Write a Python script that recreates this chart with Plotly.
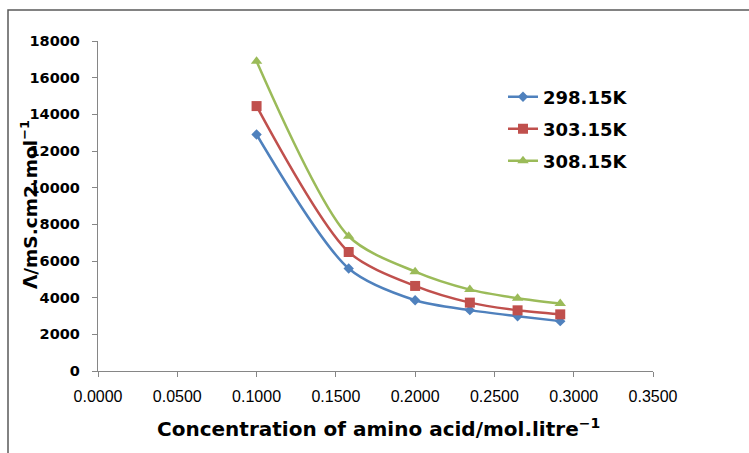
import plotly.graph_objects as go

conc = [0.1000, 0.1581, 0.2000, 0.2345, 0.2646, 0.2915]
lam_298 = [12900, 5590, 3860, 3320, 2990, 2720]
lam_303 = [14450, 6490, 4640, 3730, 3310, 3090]
lam_308 = [16900, 7350, 5420, 4440, 3970, 3680]
names = ["298.15K", "303.15K", "308.15K"]
colors = ["#4F81BD", "#C0504D", "#9BBB59"]
symbols = ["diamond", "square", "triangle-up"]
sizes = [8, 10, 10]
x_ticks = [0, 0.05, 0.1, 0.15, 0.2, 0.25, 0.3, 0.35]
y_ticks = list(range(0, 18001, 2000))

FONT = "Liberation Sans, Arial, sans-serif"
BFONT = "DejaVu Sans, sans-serif"
fig = go.Figure()
legends = ["legend", "legend2", "legend3"]
for i, ys in enumerate([lam_298, lam_303, lam_308]):
    fig.add_trace(go.Scatter(
        x=conc, y=ys, name=names[i], mode="lines+markers",
        line=dict(color=colors[i], width=2.5, shape="spline", smoothing=0.8),
        marker=dict(symbol=symbols[i], size=sizes[i], color=colors[i]),
        legend=legends[i],
    ))

W, H = 749, 453
l, r, t, b = 98, 96, 41, 82
pw = W - l - r
ph = H - t - b

def px_x(p):
    return (p - l) / pw

def px_y(p):
    return (H - b - p) / ph

leg_common = dict(font=dict(family=BFONT, size=18, color="black", weight="bold"),
                  bgcolor="rgba(0,0,0,0)", xanchor="left", yanchor="middle",
                  itemwidth=30)
layout_legs = {}
for i, key in enumerate(legends):
    layout_legs[key] = dict(leg_common, x=px_x(503), y=px_y(97 + 32 * i))

fig.update_layout(
    width=W, height=H,
    margin=dict(l=l, r=r, t=t, b=b),
    paper_bgcolor="white", plot_bgcolor="white",
    font=dict(family=FONT, color="black"),
    showlegend=True,
    **layout_legs,
    xaxis=dict(range=[0, 0.35], tickvals=x_ticks,
               ticktext=[f"{v:.4f}" for v in x_ticks],
               showgrid=False, zeroline=False, showline=True,
               linecolor="#868686", linewidth=1.3, ticks="outside",
               tickcolor="#868686", ticklen=5, ticklabelstandoff=6,
               tickfont=dict(family=FONT, size=16, color="black")),
    yaxis=dict(range=[0, 18000], tickvals=y_ticks,
               ticktext=[str(v) for v in y_ticks],
               showgrid=False, zeroline=False, showline=True,
               linecolor="#868686", linewidth=1.3, ticks="outside",
               tickcolor="#868686", ticklen=5, ticklabelstandoff=9,
               tickfont=dict(family=BFONT, size=14.5, color="black", weight="bold")),
)

fig.add_annotation(text="Concentration of amino acid/mol.litre<sup>\u22121</sup>",
                   xref="paper", yref="paper", x=px_x(378), y=px_y(428),
                   showarrow=False, xanchor="center", yanchor="middle",
                   font=dict(family=BFONT, size=20, color="black", weight="bold"))
fig.add_annotation(text="\u039b/mS.cm2.mol<sup>\u22121</sup>",
                   xref="paper", yref="paper", x=px_x(29), y=px_y(205),
                   showarrow=False, textangle=-90, xanchor="center", yanchor="middle",
                   font=dict(family=BFONT, size=18.5, color="black", weight="bold"))

fig.add_shape(type="rect", xref="paper", yref="paper",
              x0=px_x(8), x1=px_x(800), y0=px_y(500), y1=px_y(10),
              line=dict(color="#595959", width=1.5), fillcolor="rgba(0,0,0,0)", layer="below")

fig.write_html("out.html")
